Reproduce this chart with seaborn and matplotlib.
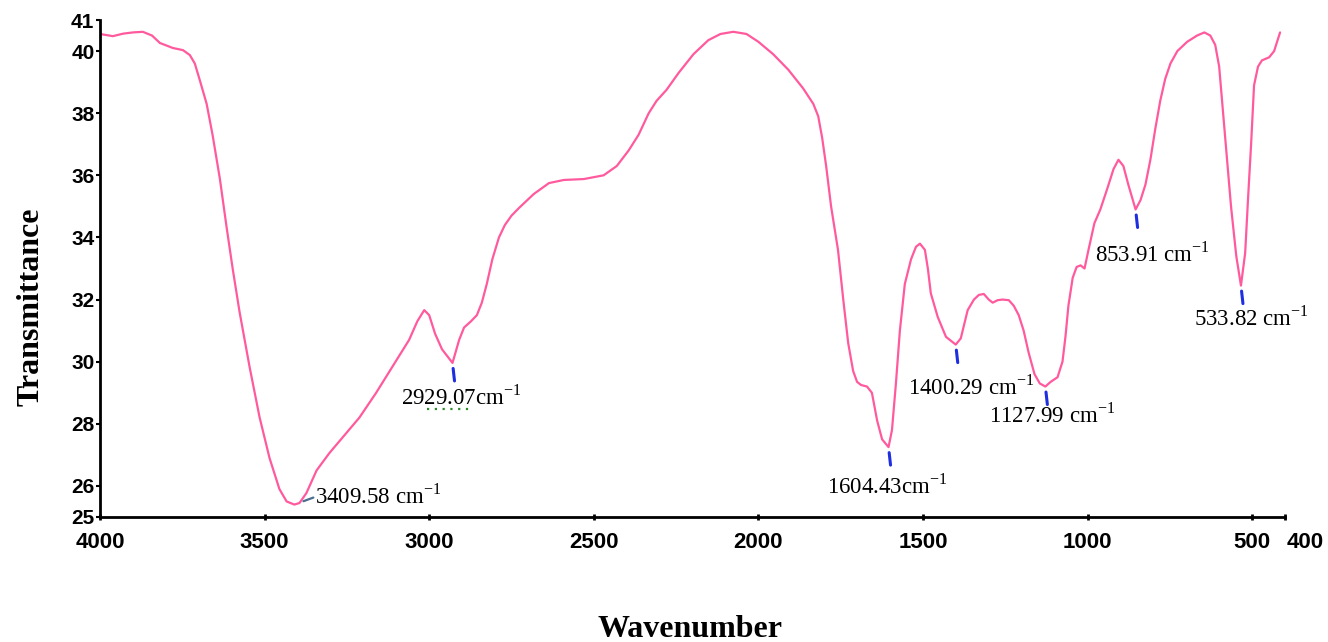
import numpy as np
import pandas as pd
import matplotlib
matplotlib.use("Agg")
import matplotlib.pyplot as plt
import matplotlib.transforms as mtransforms
import seaborn as sns

# FTIR spectrum: wavenumber (cm^-1) and transmittance
wavenumber = [
    4000, 3961, 3930, 3900, 3870, 3842, 3818, 3779, 3748, 3727, 3712, 3697,
    3676, 3658, 3636, 3615, 3597, 3576, 3545, 3515, 3485, 3455, 3433, 3409.58,
    3394, 3373, 3342, 3303, 3252, 3212, 3161, 3112, 3061, 3036, 3015, 3000,
    2982, 2961, 2929.07, 2909, 2894, 2873, 2855, 2840, 2825, 2808, 2788, 2770,
    2750, 2727, 2682, 2636, 2591, 2530, 2470, 2430, 2394, 2364, 2333, 2309,
    2279, 2242, 2197, 2152, 2115, 2076, 2036, 2000, 1955, 1909, 1864, 1833,
    1818, 1806, 1794, 1779, 1758, 1742, 1727, 1712, 1700, 1688, 1670, 1655,
    1639, 1624, 1604.43, 1594, 1582, 1570, 1555, 1536, 1521, 1509, 1494, 1485,
    1476, 1455, 1430, 1400.29, 1385, 1364, 1345, 1330, 1315, 1300, 1288, 1273,
    1258, 1239, 1224, 1209, 1194, 1179, 1161, 1145, 1127.99, 1112, 1091, 1076,
    1067, 1058, 1045, 1033, 1021, 1009, 997, 979, 961, 939, 921, 906,
    891, 876, 853.91, 839, 824, 809, 794, 779, 764, 748, 727, 697,
    667, 645, 627, 612, 600, 588, 576, 564, 548, 533.82, 521, 512,
    503, 494, 482, 470, 448, 433, 415,
]
transmittance = [
    40.55, 40.48, 40.56, 40.60, 40.62, 40.50, 40.26, 40.10, 40.03, 39.87, 39.60, 39.07,
    38.30, 37.30, 35.90, 34.30, 33.00, 31.60, 29.80, 28.20, 26.90, 25.90, 25.50, 25.40,
    25.45, 25.77, 26.50, 27.06, 27.70, 28.20, 29.00, 29.83, 30.70, 31.30, 31.66, 31.50,
    30.90, 30.40, 29.96, 30.70, 31.10, 31.30, 31.50, 31.90, 32.50, 33.30, 34.00, 34.40,
    34.70, 34.95, 35.40, 35.75, 35.85, 35.88, 36.00, 36.30, 36.80, 37.30, 38.00, 38.40,
    38.75, 39.30, 39.90, 40.35, 40.55, 40.62, 40.55, 40.30, 39.90, 39.40, 38.80, 38.30,
    37.90, 37.20, 36.30, 35.00, 33.60, 32.00, 30.60, 29.70, 29.35, 29.25, 29.20, 29.00,
    28.10, 27.50, 27.25, 27.80, 29.30, 31.00, 32.50, 33.30, 33.70, 33.80, 33.60, 33.00,
    32.20, 31.44, 30.80, 30.55, 30.75, 31.66, 32.00, 32.15, 32.18, 32.00, 31.90, 31.98,
    32.00, 31.98, 31.80, 31.50, 31.00, 30.30, 29.60, 29.30, 29.20, 29.35, 29.50, 30.00,
    30.80, 31.80, 32.70, 33.05, 33.10, 33.00, 33.60, 34.46, 34.90, 35.60, 36.20, 36.50,
    36.30, 35.70, 34.90, 35.20, 35.70, 36.50, 37.50, 38.40, 39.10, 39.60, 40.00, 40.30,
    40.50, 40.60, 40.50, 40.20, 39.50, 38.00, 36.50, 35.00, 33.40, 32.45, 33.50, 35.30,
    37.00, 38.90, 39.50, 39.70, 39.80, 40.00, 40.60,
]

# Labelled absorption bands
peak_wn = [3409.58, 2929.07, 1604.43, 1400.29, 1127.99, 853.91, 533.82]
peak_t = [25.40, 29.96, 27.25, 30.55, 29.20, 34.90, 32.45]
peak_text = ["3409.58 cm", "2929.07cm", "1604.43cm", "1400.29 cm",
             "1127.99 cm", "853.91 cm", "533.82 cm"]

x_ticks = [4000, 3500, 3000, 2500, 2000, 1500, 1000, 500, 400]
y_ticks = [25, 26, 28, 30, 32, 34, 36, 38, 40, 41]

sns.set_theme(style="ticks")
plt.rcParams["font.family"] = ["Liberation Serif", "DejaVu Serif"]
plt.rcParams["mathtext.fontset"] = "custom"
plt.rcParams["mathtext.rm"] = "Liberation Serif"
plt.rcParams["text.color"] = "black"
plt.rcParams["axes.labelcolor"] = "black"

fig = plt.figure(figsize=(13.28, 6.42), dpi=100)
ax = fig.add_axes([100 / 1328, 1 - 517 / 642, 1185 / 1328, 497 / 642])

df = pd.DataFrame({"Wavenumber": wavenumber, "Transmittance": transmittance})
sns.lineplot(data=df, x="Wavenumber", y="Transmittance", sort=False,
             estimator=None, color="#ff5a9e", linewidth=1.6, ax=ax)
for ln in ax.get_lines():
    ln.set_solid_joinstyle("round")

ax.set_xlim(4000, 400)
ax.set_ylim(25, 41)
ax.set_xticks(x_ticks)
ax.set_yticks(y_ticks)
ax.set_xticklabels([str(v) for v in x_ticks])
ax.set_yticklabels([str(v) for v in y_ticks])

for side in ("top", "right"):
    ax.spines[side].set_visible(False)
for side in ("left", "bottom"):
    ax.spines[side].set_linewidth(2.0)
    ax.spines[side].set_color("black")

ax.tick_params(axis="x", direction="inout", length=4, width=2, pad=9,
               labelsize=16, colors="black")
ax.tick_params(axis="y", direction="out", length=3, width=1.5, pad=1,
               labelsize=15, colors="black")
for lab in ax.get_xticklabels() + ax.get_yticklabels():
    lab.set_fontfamily(["Liberation Sans", "DejaVu Sans"])
    lab.set_fontweight("bold")

# nudge the last x tick label so it clears the "500" label
last = ax.get_xticklabels()[-1]
last.set_transform(last.get_transform() +
                   mtransforms.ScaledTranslation(20 / 100, 0, fig.dpi_scale_trans))

ax.set_xlabel("Wavenumber", fontsize=23, fontweight="bold", va="center",
              color="black")
ax.set_ylabel("Transmittance", fontsize=23, fontweight="bold", va="center",
              color="black")
ax.xaxis.set_label_coords(0.498, -0.226)
ax.yaxis.set_label_coords(-0.058, 0.4225)

# label anchors (offset from each band minimum, in pixels)
label_offsets = [(21, -8), (-52, 34), (-62, 39), (-48, 43), (-56, 29), (-41, 45), (-47, 33)]

px = 72 / 100  # pixels -> points
for i, (wn, t, txt) in enumerate(zip(peak_wn, peak_t, peak_text)):
    dx, dy = label_offsets[i]
    ax.annotate(txt + r"$^{\mathregular{-1}}$", xy=(wn, t),
                xytext=(dx * px, -dy * px), textcoords="offset points",
                ha="left", va="center", fontsize=16.5, color="black")
    if i == 0:
        ax.annotate("", xy=(wn, t), xytext=(19 * px, 7 * px),
                    textcoords="offset points",
                    arrowprops=dict(arrowstyle="-", color="#4b6d8f", lw=1.6,
                                    shrinkA=0, shrinkB=7))
    else:
        ax.annotate("", xy=(wn, t), xytext=(2 * px, -18 * px),
                    textcoords="offset points",
                    arrowprops=dict(arrowstyle="-", color="#1f2fe0", lw=2.2,
                                    shrinkA=0, shrinkB=4))

# dotted underline beneath part of the 2929 label
ax.plot([3006, 2879], [28.48, 28.48], linestyle=(0, (1, 2.5)), color="#2e8b2e",
        linewidth=1.6)

fig.savefig("out.png", dpi=100, facecolor="white")
